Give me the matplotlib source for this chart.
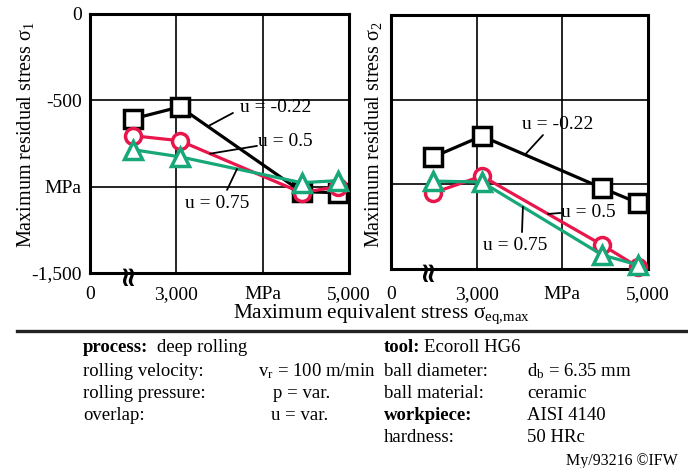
import matplotlib
matplotlib.use("Agg")
import matplotlib.pyplot as plt
from matplotlib.lines import Line2D

plt.rcParams['font.family'] = ['Liberation Serif', 'DejaVu Serif']
plt.rcParams['mathtext.fontset'] = 'custom'
plt.rcParams['mathtext.rm'] = 'Liberation Serif'
plt.rcParams['mathtext.it'] = 'Liberation Serif:italic'
plt.rcParams['mathtext.bf'] = 'Liberation Serif:bold'

# ---- data ----
x_ticks = [2000, 3000, 4000, 5000]
x_ticklabels = ["0", "3,000", "MPa", "5,000"]
y_ticks = [0, -500, -1000, -1500]
y_ticklabels = ["0", "-500", "MPa", "-1,500"]

# sigma_1 panel
s1_x_black = [2500, 3040, 4450, 4870]
s1_y_black = [-607, -538, -1029, -1035]
s1_x_red = [2500, 3040, 4450, 4870]
s1_y_red = [-705, -734, -1035, -1000]
s1_x_green = [2500, 3040, 4450, 4870]
s1_y_green = [-786, -827, -977, -965]

# sigma_2 panel
s2_x_black = [2490, 3060, 4465, 4885]
s2_y_black = [-839, -715, -1022, -1110]
s2_x_red = [2490, 3060, 4465, 4880]
s2_y_red = [-1051, -951, -1358, -1487]
s2_x_green = [2490, 3060, 4465, 4880]
s2_y_green = [-981, -986, -1417, -1476]

RED = '#e8174b'
GREEN = '#17a778'
FS = 14

fig = plt.figure(figsize=(6.88, 4.68), dpi=100)
W, H = 688, 468

def add_ax(x0, x1, ytop, ybot):
    return fig.add_axes([x0 / W, (H - ybot) / H, (x1 - x0) / W, (ybot - ytop) / H])

ax1 = add_ax(90, 349, 14, 273)
ax2 = add_ax(391, 648, 15, 269)

def style(ax, ylabels, xpad):
    ax.set_xlim(2000, 5000)
    ax.set_ylim(-1500, 0)
    ax.set_xticks(x_ticks)
    ax.set_xticklabels(x_ticklabels, fontsize=FS)
    ax.set_yticks(y_ticks)
    if ylabels:
        ax.set_yticklabels(y_ticklabels, fontsize=FS)
    else:
        ax.set_yticklabels([])
    ax.tick_params(axis='y', length=0, pad=6)
    ax.tick_params(axis='x', length=0, pad=xpad)
    for sp in ax.spines.values():
        sp.set_linewidth(2.2)
        sp.set_color('black')
    ax.grid(True, color='black', lw=1.2)
    ax.set_axisbelow(True)
    # axis break symbol
    ax.text(2420, -1500, "≈", rotation=90, ha='center', va='center', fontsize=20,
            fontweight='bold', color='black', zorder=10, family='DejaVu Sans')

def series(ax, xb, yb, xr, yr, xg, yg):
    ax.plot(xb, yb, '-', color='black', lw=2.3, marker='s', ms=13, mfc='white',
            mec='black', mew=2.5, zorder=3, clip_on=False)
    ax.plot(xr, yr, '-', color=RED, lw=2.3, marker='o', ms=11.5, mfc='white',
            mec=RED, mew=2.5, zorder=4, clip_on=False)
    ax.plot(xg, yg, '-', color=GREEN, lw=2.3, marker='^', ms=12.5, mfc='white',
            mec=GREEN, mew=2.5, zorder=5, clip_on=False)

style(ax1, True, 9.5)
style(ax2, False, 12.5)
series(ax1, s1_x_black, s1_y_black, s1_x_red, s1_y_red, s1_x_green, s1_y_green)
series(ax2, s2_x_black, s2_y_black, s2_x_red, s2_y_red, s2_x_green, s2_y_green)

lp = dict(arrowstyle='-', color='black', lw=1.3, shrinkA=0, shrinkB=0)

def ann(ax, txt, tx, ty, p0, p1):
    ax.text(tx, ty, txt, fontsize=FS, ha='left', va='center', zorder=6)
    ax.annotate("", xy=p1, xytext=p0, arrowprops=lp, zorder=6)

ann(ax1, "u = -0.22", 3740, -539, (3656, -573), (3367, -650))
ann(ax1, "u = 0.5", 3950, -741, (3934, -764), (3390, -809))
ann(ax1, "u = 0.75", 3100, -1100, (3587, -1019), (3703, -897))

ann(ax2, "u = -0.22", 3530, -644, (3774, -709), (3564, -825))
ann(ax2, "u = 0.5", 3990, -1169, (3980, -1169), (3832, -1175))
ann(ax2, "u = 0.75", 3075, -1362, (3529, -1282), (3540, -1134))

# axis labels
fig.text(26 / W, 1 - 135 / H, "Maximum residual stress σ$_1$", rotation=90,
         ha='center', va='center', fontsize=FS + 0.5)
fig.text(373 / W, 1 - 135 / H, "Maximum residual stress σ$_2$", rotation=90,
         ha='center', va='center', fontsize=FS + 0.5)
fig.text(382 / W, 1 - 314 / H, r"Maximum equivalent stress σ$_{\mathrm{eq{,}max}}$",
         ha='center', va='center', fontsize=15.3)

# separator line
fig.add_artist(Line2D([0.025, 1.0], [1 - 331 / H, 1 - 331 / H], transform=fig.transFigure,
                      color='#222222', lw=2.4))

# parameter table
TFS = 13.5
row_y = [348, 371, 394, 416, 438]

def ft(x, y, s, size=TFS, **kw):
    fig.text(x / W, 1 - y / H, s, ha='left', va='center', fontsize=size, **kw)

# left block
ft(83, row_y[0], "process:", fontweight='bold')
ft(157, row_y[0], "deep rolling")
left_labels = ["rolling velocity:", "rolling pressure:", "overlap:"]
left_values = [r"v$_\mathrm{r}$ = 100 m/min", "p = var.", "u = var."]
left_val_x = [258, 273, 271]
for i in range(3):
    ft(83, row_y[i + 1], left_labels[i])
    ft(left_val_x[i], row_y[i + 1], left_values[i])

# right block
ft(384, row_y[0], "tool:", fontweight='bold')
ft(424, row_y[0], "Ecoroll HG6")
right_labels = ["ball diameter:", "ball material:", "workpiece:", "hardness:"]
right_bold = [False, False, True, False]
right_values = [r"d$_\mathrm{b}$ = 6.35 mm", "ceramic", "AISI 4140", "50 HRc"]
for i in range(4):
    ft(384, row_y[i + 1], right_labels[i], fontweight='bold' if right_bold[i] else 'normal')
    ft(527, row_y[i + 1], right_values[i])

fig.text(678 / W, 1 - 461 / H, "My/93216 ©IFW", ha='right', va='center', fontsize=11.5)

fig.savefig("out.png", dpi=100)
